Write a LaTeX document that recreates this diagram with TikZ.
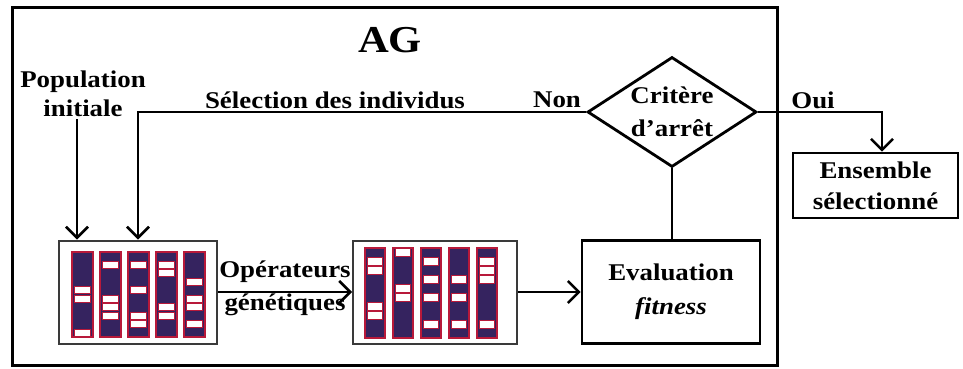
\documentclass[tikz,border=0pt]{standalone}
\usepackage{fontspec}
\setmainfont[FakeStretch=1.12]{Liberation Serif}
\usetikzlibrary{arrows.meta,shapes.geometric}
\definecolor{gene}{HTML}{35235F}
\definecolor{genered}{HTML}{B8193A}
\definecolor{boxgrey}{HTML}{3A3A3A}
\tikzset{
  lbl/.style={font=\fontsize{24}{29}\selectfont\bfseries, inner sep=2pt},
  frame/.style={draw, line width=3pt},
  stepbox/.style={draw, line width=2.8pt, fill=white},
  popbox/.style={draw=boxgrey, line width=2pt, fill=white},
  link/.style={line width=2.5pt},
  arr/.style={link, -{Straight Barb[length=11pt,width=22pt]}},
}
% one chromosome: x, y, width, height, list of 10 genes (1 = dark, 0 = light)
\newcommand\genecol[5]{%
  \fill[gene] (#1,#2) rectangle ++(#3,#4);
  \foreach \b [count=\r from 0] in #5 {
    \ifnum\b=0
      \draw[genered, line width=1pt, fill=white]
        (#1+2.5, #2+\r*#4/10+0.7) rectangle ++(#3-5, #4/10-1.4);
    \fi
  }
  \draw[genered, line width=1.6pt] (#1,#2) rectangle ++(#3,#4);
}
\begin{document}
\begin{tikzpicture}[x=1pt,y=-1pt]
\useasboundingbox (0,0) rectangle (963,369);

% frame of the genetic algorithm
\node[frame, minimum width=765pt, minimum height=357pt, inner sep=0pt] (ag) at (394.5,186.5) {};
\node[lbl, font=\fontsize{38}{44}\selectfont\bfseries] (title) at (390,40) {AG};

% labels
\node[lbl, align=center] (popinit) at (83,94) {Population\\initiale};
\node[lbl] (sel) at (335,100) {Sélection des individus};
\node[lbl] (non) at (557,100) {Non};
\node[lbl] (oui) at (813,100) {Oui};
\node[lbl] (op1) at (285,272) {Opérateurs};
\node[lbl] (op2) at (285,305) {génétiques};

% populations
\node[popbox, minimum width=158pt, minimum height=103pt] (pop1) at (138,292) {};
\node[popbox, minimum width=164pt, minimum height=103pt] (pop2) at (435,292) {};

\foreach \pat [count=\i from 0] in {
  {1,1,1,1,0,0,1,1,1,0},
  {1,0,1,1,1,0,0,0,1,1},
  {1,0,1,1,0,1,1,0,0,1},
  {1,0,0,1,1,1,0,0,1,1},
  {1,1,1,0,1,0,0,1,0,1}} {
  \genecol{72+28*\i}{252}{21}{85}{\pat}
}
\foreach \pat [count=\i from 0] in {
  {1,0,0,1,1,1,0,0,1,1},
  {0,1,1,1,0,0,1,1,1,1},
  {1,0,1,0,1,0,1,1,0,1},
  {1,1,1,0,1,0,1,1,0,1},
  {1,0,0,0,1,1,1,1,0,1}} {
  \genecol{365+28*\i}{248}{20}{90}{\pat}
}

% evaluation, stopping test, result
\node[stepbox, lbl, align=center, minimum width=178pt, minimum height=103pt]
  (eval) at (671,292) {Evaluation\\[5pt]\textit{fitness}};
\node[stepbox, lbl, diamond, aspect=1.54, inner sep=0pt, align=center,
  minimum width=169pt, minimum height=110pt]
  (crit) at (672,112) {Critère\\[4pt]d'arrêt};
\node[stepbox, lbl, align=center, minimum width=165pt, minimum height=65pt]
  (ens) at (875.5,185.5) {Ensemble\\[2pt]sélectionné};

% connectors
\draw[arr] ([xshift=-6pt]popinit.south) -- ([xshift=-6pt]popinit.south |- pop1.north);
\draw[arr] (crit.west) -| (pop1.north);
\draw[arr] (pop1.east) -- (pop2.west);
\draw[arr] (pop2.east) -- (eval.west);
\draw[link] (crit.south) -- (crit.south |- eval.north);
\draw[arr] (crit.east) -| ([xshift=6.5pt]ens.north);
\end{tikzpicture}
\end{document}
